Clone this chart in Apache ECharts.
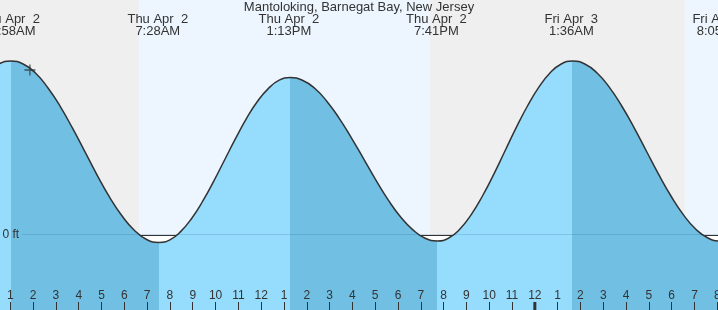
<!DOCTYPE html>
<html><head><meta charset="utf-8">
<script src="https://cdn.jsdelivr.net/npm/echarts@6/dist/echarts.min.js"></script>
<style>html,body{margin:0;padding:0;background:#fff}#c{width:718px;height:310px}</style>
</head><body><div id="c"></div>
<script>
// ---- data ----
const chartTitle = 'Mantoloking, Barnegat Bay, New Jersey';
// hours since Thu Apr 2 00:00 and water level (ft)
const tideHours   = [-0.02, 0.5,
  1.02, 1.562, 2.103, 2.645, 3.187, 3.728, 4.27, 4.812, 5.353, 5.895, 6.437, 6.978,
  7.52, 7.999, 8.478, 8.958, 9.437, 9.916, 10.395, 10.874, 11.353, 11.833, 12.312, 12.791,
  13.27, 13.808, 14.347, 14.885, 15.423, 15.962, 16.5, 17.038, 17.577, 18.115, 18.653, 19.192,
  19.73, 20.223, 20.717, 21.21, 21.703, 22.197, 22.69, 23.183, 23.677, 24.17, 24.663, 25.157,
  25.65, 26.19, 26.73, 27.27, 27.81, 28.35, 28.89, 29.43, 29.97, 30.51, 31.05, 31.59,
  32.13, 32.67];
const tideHeights = [0.540, 0.570,
  0.580, 0.570, 0.540, 0.491, 0.429, 0.356, 0.278, 0.199, 0.126, 0.064, 0.016, -0.015,
  -0.025, -0.016, 0.012, 0.056, 0.113, 0.179, 0.250, 0.321, 0.388, 0.445, 0.488, 0.516,
  0.525, 0.516, 0.489, 0.445, 0.389, 0.323, 0.253, 0.182, 0.116, 0.060, 0.017, -0.011,
  -0.020, -0.010, 0.020, 0.068, 0.130, 0.202, 0.280, 0.358, 0.430, 0.492, 0.540, 0.570,
  0.580, 0.570, 0.540, 0.492, 0.430, 0.358, 0.280, 0.202, 0.130, 0.068, 0.020, -0.010,
  -0.020, -0.010];
const eventTimes  = [0.967, 7.467, 13.217, 19.683, 25.6, 32.08];
const eventDays   = ['Thu Apr  2', 'Thu Apr  2', 'Thu Apr  2', 'Thu Apr  2', 'Fri Apr  3', 'Fri Apr  3'];
const eventClock  = ['12:58AM', '7:28AM', '1:13PM', '7:41PM', '1:36AM', '8:05AM'];
const turnTimes   = [1.02, 7.52, 13.27, 19.73, 25.65, 32.13]; // high/low turning points
const nightRanges = [[-1, 6.65], [19.37, 30.58]];
const dayRanges   = [[6.65, 19.37], [30.58, 34]];
const hourLabels  = ['12','1','2','3','4','5','6','7','8','9','10','11','12','1','2','3','4','5','6','7','8','9','10','11','12','1','2','3','4','5','6','7','8','9'];
const midnightTimes = [24];
const nowPoint    = [1.86, 0.55];
const datumLabel  = '0 ft';
const datumLevel  = 0;

// ---- layout / style ----
const FONT = '"Liberation Sans", Arial, sans-serif';
const PX_PER_HOUR = 22.806, FIRST_TICK_X = 10.3, W = 718;
const X_MIN = 0, X_MAX = 33, Y_MIN = -0.25, Y_MAX = 0.78333;
const gridLeft = FIRST_TICK_X - (1 - X_MIN) * PX_PER_HOUR;
const gridWidth = (X_MAX - X_MIN) * PX_PER_HOUR;
const NIGHT = '#efefef', DAY = '#edf6fe', LIGHT = '#96dcfd', DARK = '#71c0e4', INK = '#333';

const pieces = [{ lt: turnTimes[0], color: LIGHT }];
for (let i = 0; i < turnTimes.length - 1; i++) {
  pieces.push({ gte: turnTimes[i], lt: turnTimes[i + 1], color: i % 2 === 0 ? DARK : LIGHT });
}
pieces.push({ gte: turnTimes[turnTimes.length - 1], color: turnTimes.length % 2 === 0 ? LIGHT : DARK });

const areas = [];
nightRanges.forEach(r => areas.push([{ xAxis: r[0], yAxis: datumLevel, itemStyle: { color: NIGHT } }, { xAxis: r[1], yAxis: Y_MAX }]));
dayRanges.forEach(r => areas.push([{ xAxis: r[0], yAxis: datumLevel, itemStyle: { color: DAY } }, { xAxis: r[1], yAxis: Y_MAX }]));

const chart = echarts.init(document.getElementById('c'), null, { renderer: 'canvas' });
chart.setOption({
  animation: false,
  backgroundColor: '#fff',
  grid: { left: gridLeft, width: gridWidth, top: 0, bottom: 0, containLabel: false, outerBoundsMode: 'none' },
  xAxis: {
    type: 'value', min: X_MIN, max: X_MAX, interval: 1, z: 10, position: 'bottom',
    axisLine: { show: false, onZero: false }, splitLine: { show: false },
    axisTick: { inside: true, length: 8, lineStyle: { color: INK, width: 1 } },
    axisLabel: { inside: true, margin: 8, color: INK, fontSize: 12, fontFamily: FONT,
      formatter: v => hourLabels[Math.round(v)] }
  },
  yAxis: { type: 'value', min: Y_MIN, max: Y_MAX, show: false },
  visualMap: { show: false, type: 'piecewise', dimension: 0, seriesIndex: 2, pieces: pieces },
  series: [
    { type: 'line', data: [], z: 1, silent: true,
      markArea: { silent: true, z: 1, data: areas } },
    { type: 'line', data: [], z: 2, silent: true,
      markLine: { silent: true, z: 2, symbol: 'none', label: { show: false },
        lineStyle: { color: INK, width: 1, type: 'solid' }, data: [{ yAxis: datumLevel }] } },
    { type: 'line', z: 3, smooth: true, symbol: 'none', silent: true,
      data: tideHours.map((h, i) => [h, tideHeights[i]]),
      lineStyle: { color: INK, width: 1.5 },
      areaStyle: { opacity: 1, origin: 'start' } },
    { type: 'scatter', z: 5, silent: true, data: [nowPoint],
      symbol: 'path://M0,5L10,5M5,0L5,10', symbolSize: 11,
      itemStyle: { color: 'rgba(0,0,0,0)', borderColor: INK, borderWidth: 1.3 } }
  ]
});

const px = (t, v) => chart.convertToPixel({ xAxisIndex: 0, yAxisIndex: 0 }, [t, v]);
const zeroY = px(0, datumLevel)[1];
const g = [];
function txt(s, x, y, align, size) {
  g.push({ type: 'text', x: x, y: y, z: 100,
    style: { text: s, fill: INK, font: size + 'px ' + FONT,
      align: align, verticalAlign: 'middle', textAlign: align, textVerticalAlign: 'middle' } });
}
txt(chartTitle, W / 2, 7.7, 'center', 13);
eventTimes.forEach((t, i) => {
  const x = px(t, 0)[0];
  txt(eventDays[i], x, 19.5, 'center', 13);
  txt(eventClock[i], x, 31.5, 'center', 13);
});
txt(datumLabel, 2.5, zeroY - 0.3, 'left', 12);
g.push({ type: 'rect', z: 90, shape: { x: 22, y: zeroY - 1, width: W - 22, height: 1 },
  style: { fill: 'rgba(0,40,90,0.14)' } });
midnightTimes.forEach(t => {
  const x = px(t, 0)[0];
  g.push({ type: 'rect', z: 100, shape: { x: x - 1.5, y: 302, width: 3, height: 8 }, style: { fill: INK } });
});
chart.setOption({ graphic: g });
</script>
</body></html>
